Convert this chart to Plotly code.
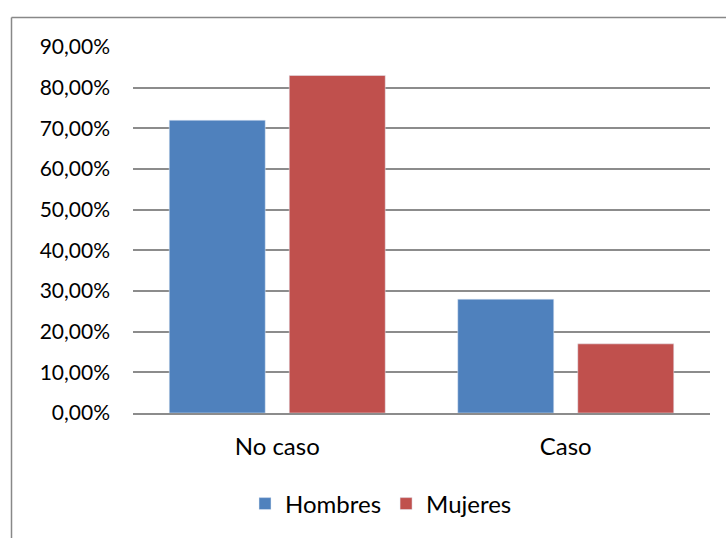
import plotly.graph_objects as go

categories = ["No caso", "Caso"]
hombres = [0.72, 0.28]
mujeres = [0.83, 0.17]
y_ticks = [0, 0.1, 0.2, 0.3, 0.4, 0.5, 0.6, 0.7, 0.8, 0.9]

W, H = 726, 538
L, R, T, B = 133, 16, 47, 125
pw, ph = W - L - R, H - T - B

def px_x(x):
    return (x - L) / pw

def px_y(y):
    return (H - B - y) / ph

fig = go.Figure()
fig.add_trace(go.Bar(name="Hombres", x=categories, y=hombres, marker_color="#4F81BD"))
fig.add_trace(go.Bar(name="Mujeres", x=categories, y=mujeres, marker_color="#C0504D"))

font_family = "Lato, 'Open Sans', sans-serif"
fig.update_layout(
    width=W, height=H,
    margin=dict(l=L, r=R, t=T, b=B, autoexpand=False),
    paper_bgcolor="white", plot_bgcolor="white",
    separators=", ",
    barmode="group",
    bargap=0.168,
    bargroupgap=0.2,
    font=dict(family=font_family, size=21, color="black"),
    showlegend=True,
    legend=dict(orientation="h", xref="container", yref="container",
                x=381 / W, xanchor="center", y=1 - 504 / H, yanchor="middle",
                font=dict(size=24), itemwidth=30, traceorder="normal"),
    xaxis=dict(showgrid=False, showline=True, linecolor="#8C8C8C", linewidth=2,
               ticks="", ticklabelstandoff=11, tickfont=dict(size=24)),
    yaxis=dict(range=[0, 0.9], tickvals=y_ticks, tickformat=".2%",
               showgrid=True, gridcolor="#8C8C8C", gridwidth=1.5,
               zeroline=False, showline=False, ticks="", ticklabelstandoff=22,
               tickfont=dict(size=21)),
    shapes=[
        dict(type="line", xref="paper", yref="paper",
             x0=px_x(11.5), x1=px_x(11.5), y0=px_y(17.5), y1=px_y(560),
             line=dict(color="#888888", width=1.5)),
        dict(type="line", xref="paper", yref="paper",
             x0=px_x(11.5), x1=px_x(760), y0=px_y(17.5), y1=px_y(17.5),
             line=dict(color="#888888", width=1.5)),
    ],
)

fig.write_html("out.html")
